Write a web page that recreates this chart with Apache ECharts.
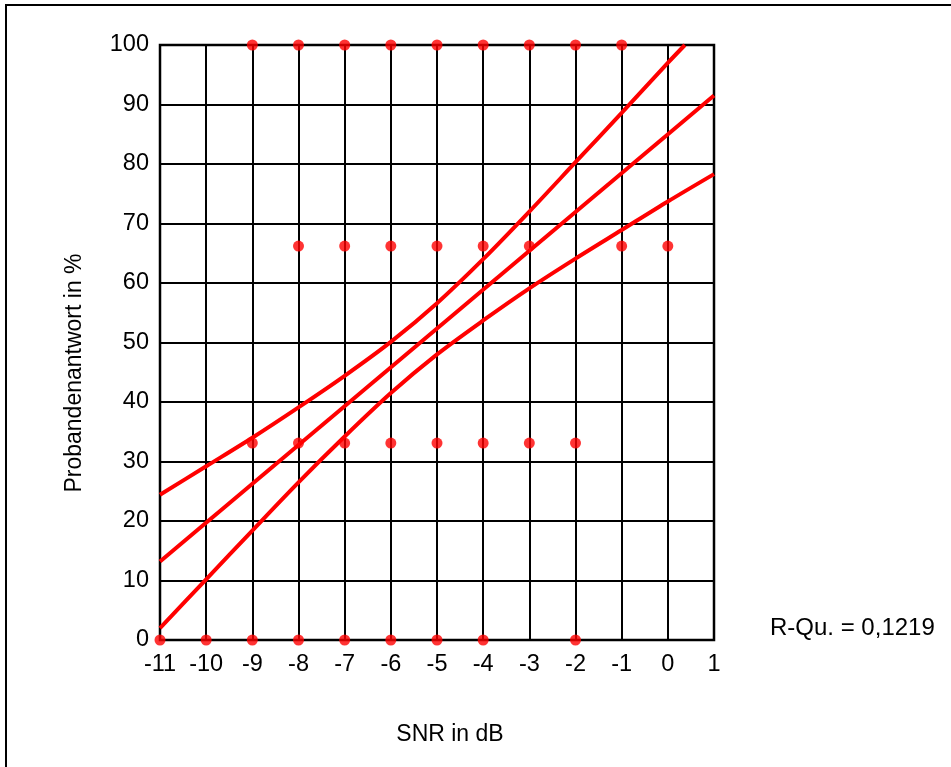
<!DOCTYPE html>
<html>
<head>
<meta charset="utf-8">
<script src="https://cdn.jsdelivr.net/npm/echarts@6/dist/echarts.min.js"></script>
<style>
  html, body { margin: 0; padding: 0; background: #fff; }
  #chart { width: 951px; height: 767px; }
</style>
</head>
<body>
<div id="chart"></div>
<script>
// Listening test: responses (%) against signal-to-noise ratio
const xTicks = [-11, -10, -9, -8, -7, -6, -5, -4, -3, -2, -1, 0, 1];
const yTicks = [0, 10, 20, 30, 40, 50, 60, 70, 80, 90, 100];

// Observed responses, grouped by response level
const snrAt100 = [-9, -8, -7, -6, -5, -4, -3, -2, -1];
const snrAt66  = [-8, -7, -6, -5, -4, -3, -1, 0];
const snrAt33  = [-9, -8, -7, -6, -5, -4, -3, -2];
const snrAt0   = [-11, -10, -9, -8, -7, -6, -5, -4, -2];
const levels   = [100, 66.2, 33.1, 0];

// Linear fit line
const fitX = [-11, 1];
const fitY = [13.2, 91.5];

// Upper and lower confidence curves
const upperX = [-11, -10, -9, -8, -7, -6, -5, -4, -3, -2, -1, 0, 0.37];
const upperY = [24.4, 29.2, 34.0, 39.1, 44.4, 50.1, 56.6, 64.0, 72.0, 80.3, 88.6, 97.0, 100];
const lowerX = [-11, -10, -9, -8, -7, -6, -5, -4, -3, -2, -1, 0, 1];
const lowerY = [2.0, 10.2, 18.4, 26.5, 34.2, 41.5, 48.0, 53.7, 59.1, 64.1, 68.9, 73.7, 78.3];

const xTitle = 'SNR in dB';
const yTitle = 'Probandenantwort in %';
const rSquaredText = 'R-Qu. = 0,1219';

const RED = '#ff0000';
const FONT = '"Liberation Sans", Arial, sans-serif';

const pts = [];
[snrAt100, snrAt66, snrAt33, snrAt0].forEach((xs, i) => {
  xs.forEach(x => pts.push([x, levels[i]]));
});
const zip = (xs, ys) => xs.map((x, i) => [x, ys[i]]);

const lineSeries = (data, smooth) => ({
  type: 'line',
  data: data,
  smooth: smooth,
  symbol: 'none',
  clip: true,
  lineStyle: { color: RED, width: 4 },
  z: 3
});

const chart = echarts.init(document.getElementById('chart'), null, { renderer: 'canvas' });
chart.setOption({
  animation: false,
  backgroundColor: '#fff',
  grid: { left: 160, top: 45, right: 237, bottom: 127, containLabel: false },
  xAxis: {
    type: 'value',
    min: xTicks[0],
    max: xTicks[xTicks.length - 1],
    interval: 1,
    axisLine: { show: true, onZero: false, lineStyle: { color: '#000', width: 2 } },
    axisTick: { show: false },
    axisLabel: { fontFamily: FONT, fontSize: 23.5, color: '#000', margin: 13 },
    splitLine: { show: true, lineStyle: { color: '#000', width: 2 } }
  },
  yAxis: {
    type: 'value',
    min: yTicks[0],
    max: yTicks[yTicks.length - 1],
    interval: 10,
    axisLine: { show: true, onZero: false, lineStyle: { color: '#000', width: 2 } },
    axisTick: { show: false },
    axisLabel: { fontFamily: FONT, fontSize: 23.5, color: '#000', margin: 11 },
    splitLine: { show: true, lineStyle: { color: '#000', width: 2 } }
  },
  series: [
    {
      type: 'scatter',
      data: pts,
      symbol: 'circle',
      symbolSize: 11,
      clip: false,
      itemStyle: { color: RED },
      z: 4
    },
    lineSeries(zip(fitX, fitY), false),
    lineSeries(zip(upperX, upperY), 0.3),
    lineSeries(zip(lowerX, lowerY), 0.3)
  ],
  graphic: [
    {
      type: 'rect',
      shape: { x: 6, y: 5, width: 1000, height: 900 },
      style: { fill: 'none', stroke: '#000', lineWidth: 2 },
      z: -10
    },
    {
      type: 'text',
      x: 450,
      y: 735,
      style: {
        text: xTitle,
        font: '23px ' + FONT,
        fill: '#000',
        textAlign: 'center',
        textVerticalAlign: 'middle'
      }
    },
    {
      type: 'text',
      x: 75,
      y: 373,
      rotation: Math.PI / 2,
      style: {
        text: yTitle,
        font: '23px ' + FONT,
        fill: '#000',
        textAlign: 'center',
        textVerticalAlign: 'middle'
      }
    },
    {
      type: 'text',
      x: 770,
      y: 628,
      style: {
        text: rSquaredText,
        font: '24px ' + FONT,
        fill: '#000',
        textVerticalAlign: 'middle'
      }
    },
    {
      type: 'rect',
      shape: { x: 160, y: 45, width: 554, height: 595 },
      style: { fill: 'none', stroke: '#000', lineWidth: 2.5 },
      z: 2
    }
  ]
});
</script>
</body>
</html>
